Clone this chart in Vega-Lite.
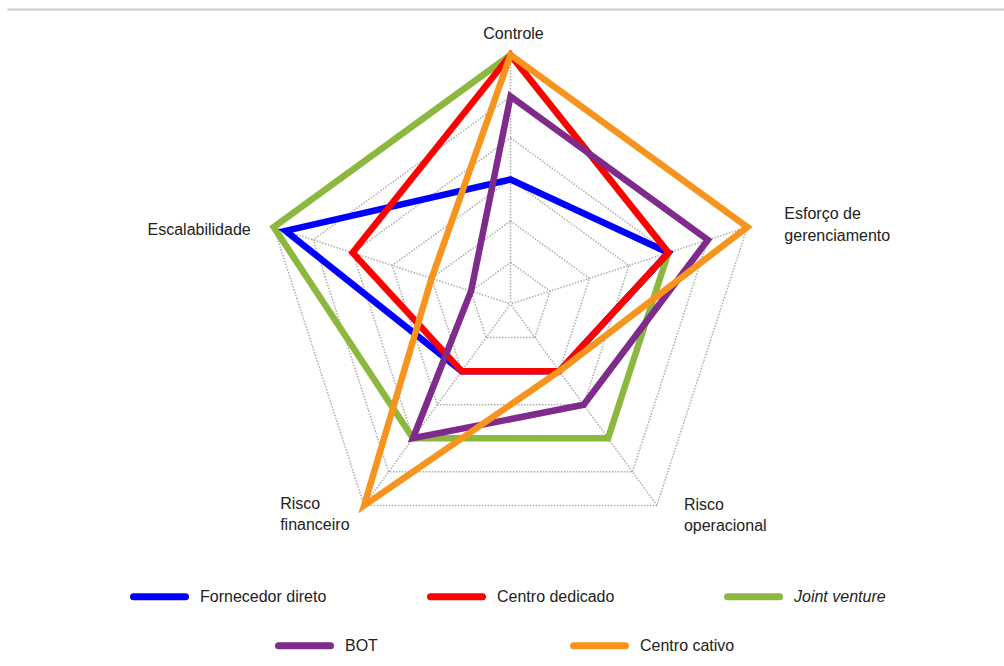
{
  "$schema": "https://vega.github.io/schema/vega-lite/v6.json",
  "width": 997,
  "height": 657,
  "autosize": {"type": "none"},
  "padding": {"left": 7, "top": 9, "right": 0, "bottom": 0},
  "background": "white",
  "config": {
    "view": {"stroke": null},
    "text": {"font": "Liberation Sans", "fontSize": 16, "color": "#222222", "lineBreak": "\n", "lineHeight": 20.5}
  },
  "datasets": {
    "axes": [
      {"axis": "Controle", "k": 0, "label": "Controle", "levels": [1, 2, 3, 4, 5, 6]},
      {"axis": "Esforço de gerenciamento", "k": 1, "label": "Esforço de\ngerenciamento", "levels": [1, 2, 3, 4, 5, 6]},
      {"axis": "Risco operacional", "k": 2, "label": "Risco\noperacional", "levels": [1, 2, 3, 4, 5, 6]},
      {"axis": "Risco financeiro", "k": 3, "label": "Risco\nfinanceiro", "levels": [1, 2, 3, 4, 5, 6]},
      {"axis": "Escalabilidade", "k": 4, "label": "Escalabilidade", "levels": [1, 2, 3, 4, 5, 6]}
    ],
    "scores": [
      {"series": "Joint venture", "axis": "Controle", "value": 6},
      {"series": "Joint venture", "axis": "Esforço de gerenciamento", "value": 4},
      {"series": "Joint venture", "axis": "Risco operacional", "value": 4},
      {"series": "Joint venture", "axis": "Risco financeiro", "value": 4},
      {"series": "Joint venture", "axis": "Escalabilidade", "value": 6},
      {"series": "Fornecedor direto", "axis": "Controle", "value": 3},
      {"series": "Fornecedor direto", "axis": "Esforço de gerenciamento", "value": 4},
      {"series": "Fornecedor direto", "axis": "Risco operacional", "value": 2},
      {"series": "Fornecedor direto", "axis": "Risco financeiro", "value": 2},
      {"series": "Fornecedor direto", "axis": "Escalabilidade", "value": 5.7},
      {"series": "Centro dedicado", "axis": "Controle", "value": 6},
      {"series": "Centro dedicado", "axis": "Esforço de gerenciamento", "value": 4},
      {"series": "Centro dedicado", "axis": "Risco operacional", "value": 2},
      {"series": "Centro dedicado", "axis": "Risco financeiro", "value": 2},
      {"series": "Centro dedicado", "axis": "Escalabilidade", "value": 4},
      {"series": "BOT", "axis": "Controle", "value": 5},
      {"series": "BOT", "axis": "Esforço de gerenciamento", "value": 5},
      {"series": "BOT", "axis": "Risco operacional", "value": 3},
      {"series": "BOT", "axis": "Risco financeiro", "value": 4},
      {"series": "BOT", "axis": "Escalabilidade", "value": 1},
      {"series": "Centro cativo", "axis": "Controle", "value": 6},
      {"series": "Centro cativo", "axis": "Esforço de gerenciamento", "value": 6},
      {"series": "Centro cativo", "axis": "Risco operacional", "value": 2},
      {"series": "Centro cativo", "axis": "Risco financeiro", "value": 6},
      {"series": "Centro cativo", "axis": "Escalabilidade", "value": 2}
    ]
  },
  "encoding": {
    "x": {
      "field": "px", "type": "quantitative",
      "scale": {"domain": [-12.133, 11.891], "nice": false, "zero": false},
      "axis": {"orient": "top", "domain": true, "domainColor": "#c8c8c8", "domainWidth": 2, "ticks": false, "labels": false, "grid": false, "title": null}
    },
    "y": {
      "field": "py", "type": "quantitative",
      "scale": {"domain": [-8.723, 7.108], "nice": false, "zero": false},
      "axis": null
    }
  },
  "layer": [
    {
      "data": {"name": "axes"},
      "transform": [
        {"flatten": ["levels"], "as": ["level"]},
        {"calculate": "PI / 2 - datum.k * 2 * PI / 5", "as": "theta"},
        {"calculate": "datum.level * cos(datum.theta)", "as": "px"},
        {"calculate": "datum.level * sin(datum.theta)", "as": "py"}
      ],
      "mark": {"type": "line", "interpolate": "linear-closed", "stroke": "#acacac", "strokeWidth": 1.5, "strokeDash": [1.5, 1.5]},
      "encoding": {
        "detail": {"field": "level", "type": "nominal"},
        "order": {"field": "k", "type": "quantitative"}
      }
    },
    {
      "data": {"name": "axes"},
      "transform": [
        {"calculate": "PI / 2 - datum.k * 2 * PI / 5", "as": "theta"},
        {"calculate": "6 * cos(datum.theta)", "as": "px"},
        {"calculate": "6 * sin(datum.theta)", "as": "py"}
      ],
      "mark": {"type": "rule", "stroke": "#acacac", "strokeWidth": 1.5, "strokeDash": [1.5, 1.5]},
      "encoding": {"x2": {"datum": 0}, "y2": {"datum": 0}}
    },
    {
      "data": {"name": "scores"},
      "transform": [
        {"filter": {"field": "series", "oneOf": ["Joint venture", "Fornecedor direto", "Centro dedicado"]}},
        {"lookup": "axis", "from": {"data": {"name": "axes"}, "key": "axis", "fields": ["k"]}},
        {"calculate": "PI / 2 - datum.k * 2 * PI / 5", "as": "theta"},
        {"calculate": "datum.value * cos(datum.theta)", "as": "px"},
        {"calculate": "datum.value * sin(datum.theta)", "as": "py"}
      ],
      "mark": {"type": "line", "interpolate": "linear-closed", "strokeWidth": 6.5, "strokeJoin": "miter"},
      "encoding": {
        "color": {
          "field": "series", "type": "nominal",
          "scale": {"domain": ["Fornecedor direto", "Centro dedicado", "Joint venture"], "range": ["#0000ff", "#ff0000", "#8db83f"]},
          "legend": {
            "orient": "none", "legendX": 123, "legendY": 558, "title": null,
            "direction": "horizontal", "columns": 3, "gridAlign": "all", "columnPadding": 89,
            "symbolType": "stroke", "symbolSize": 2704, "symbolStrokeWidth": 7,
            "labelFont": "Liberation Sans", "labelFontSize": 16, "labelColor": "#222222", "labelOffset": 11, "labelLimit": 300,
            "encode": {
              "labels": {"update": {"fontStyle": {"signal": "datum.value === 'Joint venture' ? 'italic' : 'normal'"}}},
              "symbols": {"update": {"strokeCap": {"value": "round"}}}
            }
          }
        },
        "order": {"field": "k", "type": "quantitative"}
      }
    },
    {
      "data": {"name": "scores"},
      "transform": [
        {"filter": {"field": "series", "oneOf": ["BOT", "Centro cativo"]}},
        {"lookup": "axis", "from": {"data": {"name": "axes"}, "key": "axis", "fields": ["k"]}},
        {"calculate": "PI / 2 - datum.k * 2 * PI / 5", "as": "theta"},
        {"calculate": "datum.value * cos(datum.theta)", "as": "px"},
        {"calculate": "datum.value * sin(datum.theta)", "as": "py"}
      ],
      "mark": {"type": "line", "interpolate": "linear-closed", "strokeWidth": 6.5, "strokeJoin": "miter"},
      "encoding": {
        "stroke": {
          "field": "series", "type": "nominal",
          "scale": {"domain": ["BOT", "Centro cativo"], "range": ["#7f2b8c", "#f7941e"]},
          "legend": {
            "orient": "none", "legendX": 268, "legendY": 607, "title": null,
            "direction": "horizontal", "columns": 2, "gridAlign": "all", "columnPadding": 119,
            "symbolType": "stroke", "symbolSize": 2704, "symbolStrokeWidth": 7,
            "labelFont": "Liberation Sans", "labelFontSize": 16, "labelColor": "#222222", "labelOffset": 11, "labelLimit": 300,
            "encode": {"symbols": {"update": {"strokeCap": {"value": "round"}}}}
          }
        },
        "order": {"field": "k", "type": "quantitative"}
      }
    },
    {
      "data": {"name": "axes"},
      "transform": [
        {"filter": "datum.axis === 'Controle'"},
        {"calculate": "PI / 2 - datum.k * 2 * PI / 5", "as": "theta"},
        {"calculate": "6 * cos(datum.theta)", "as": "px"},
        {"calculate": "6 * sin(datum.theta)", "as": "py"}
      ],
      "mark": {"type": "text", "align": "center", "baseline": "alphabetic", "dx": 3, "dy": -16},
      "encoding": {"text": {"field": "label", "type": "nominal"}}
    },
    {
      "data": {"name": "axes"},
      "transform": [
        {"filter": "datum.axis === 'Esforço de gerenciamento'"},
        {"calculate": "PI / 2 - datum.k * 2 * PI / 5", "as": "theta"},
        {"calculate": "6 * cos(datum.theta)", "as": "px"},
        {"calculate": "6 * sin(datum.theta)", "as": "py"}
      ],
      "mark": {"type": "text", "align": "left", "baseline": "alphabetic", "dx": 37, "dy": -8, "lineHeight": 21.5},
      "encoding": {"text": {"field": "label", "type": "nominal"}}
    },
    {
      "data": {"name": "axes"},
      "transform": [
        {"filter": "datum.axis === 'Risco operacional'"},
        {"calculate": "PI / 2 - datum.k * 2 * PI / 5", "as": "theta"},
        {"calculate": "6 * cos(datum.theta)", "as": "px"},
        {"calculate": "6 * sin(datum.theta)", "as": "py"}
      ],
      "mark": {"type": "text", "align": "left", "baseline": "alphabetic", "dx": 27, "dy": 5},
      "encoding": {"text": {"field": "label", "type": "nominal"}}
    },
    {
      "data": {"name": "axes"},
      "transform": [
        {"filter": "datum.axis === 'Risco financeiro'"},
        {"calculate": "PI / 2 - datum.k * 2 * PI / 5", "as": "theta"},
        {"calculate": "6 * cos(datum.theta)", "as": "px"},
        {"calculate": "6 * sin(datum.theta)", "as": "py"}
      ],
      "mark": {"type": "text", "align": "left", "baseline": "alphabetic", "dx": -84, "dy": 4},
      "encoding": {"text": {"field": "label", "type": "nominal"}}
    },
    {
      "data": {"name": "axes"},
      "transform": [
        {"filter": "datum.axis === 'Escalabilidade'"},
        {"calculate": "PI / 2 - datum.k * 2 * PI / 5", "as": "theta"},
        {"calculate": "6 * cos(datum.theta)", "as": "px"},
        {"calculate": "6 * sin(datum.theta)", "as": "py"}
      ],
      "mark": {"type": "text", "align": "right", "baseline": "alphabetic", "dx": -23, "dy": 8},
      "encoding": {"text": {"field": "label", "type": "nominal"}}
    }
  ]
}
